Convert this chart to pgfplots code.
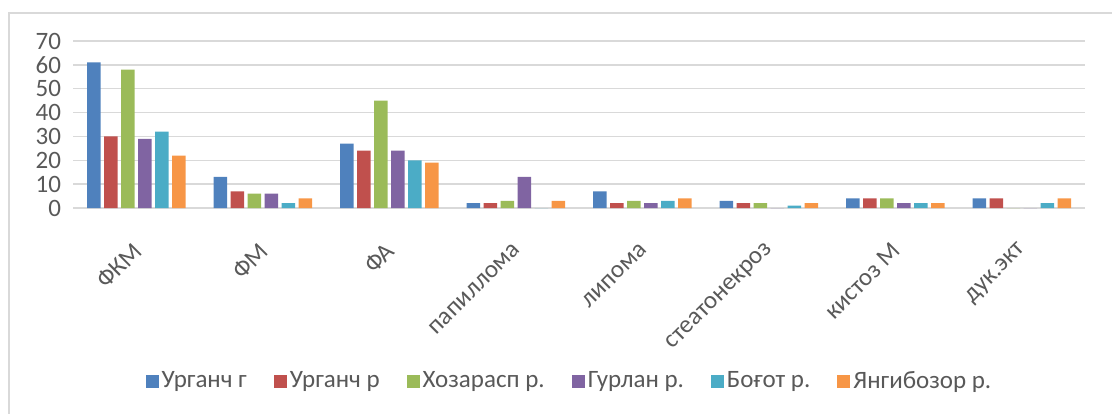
\documentclass[border=0pt]{standalone}
\usepackage{fontspec}
\setmainfont{Carlito}
\usepackage{pgfplots}
\pgfplotsset{compat=1.18}
\definecolor{c1}{HTML}{4F81BD}
\definecolor{c2}{HTML}{C0504D}
\definecolor{c3}{HTML}{9BBB59}
\definecolor{c4}{HTML}{8064A2}
\definecolor{c5}{HTML}{4BACC6}
\definecolor{c6}{HTML}{F79646}
\definecolor{txt}{HTML}{595959}
\definecolor{gridc}{HTML}{D9D9D9}
\begin{document}
\begin{tikzpicture}
\useasboundingbox (0,0) rectangle (556pt,206.5pt);
\draw[gridc, line width=0.75pt] (4.5pt,-2pt) -- (4.5pt,200pt) -- (560pt,200pt);
\begin{axis}[
  at={(36.5pt,102.5pt)}, anchor=south west,
  scale only axis, width=506pt, height=83.5pt,
  xmin=-0.5, xmax=7.5, ymin=0, ymax=70,
  ybar=1.75pt, bar width=6.75pt,
  xtick={0,...,7},
  xticklabels={ФКМ,ФМ,ФА,папиллома,липома,стеатонекроз,кистоз М,дук.экт},
  ytick={0,10,...,70},
  ymajorgrids, major grid style={gridc, line width=0.75pt},
  axis lines*=left, axis line style={-},
  y axis line style={draw=none},
  x axis line style={gridc, line width=0.75pt},
  major tick length=0pt,
  tick label style={font=\fontsize{12.5}{14}\selectfont, text=txt},
  yticklabel style={xshift=-2.5pt},
  xticklabel style={xshift=3pt, yshift=-17pt, rotate=45, anchor=east},
  /pgf/number format/assume math mode=true,
  legend columns=6,
  legend style={draw=none, at={(0.491,-1.036)}, anchor=center,
    font=\fontsize{12.5}{14}\selectfont, text=txt,
    /tikz/every even column/.append style={column sep=12pt},
    nodes={inner sep=1.5pt}},
  legend image code/.code={\fill[#1] (0pt,-3.25pt) rectangle (6.5pt,3.25pt);},
  every axis plot/.append style={draw=none},
]
\addplot[fill=c1] coordinates {(0,61) (1,13) (2,27) (3,2) (4,7) (5,3) (6,4) (7,4)};
\addplot[fill=c2] coordinates {(0,30) (1,7) (2,24) (3,2) (4,2) (5,2) (6,4) (7,4)};
\addplot[fill=c3] coordinates {(0,58) (1,6) (2,45) (3,3) (4,3) (5,2) (6,4) (7,0)};
\addplot[fill=c4] coordinates {(0,29) (1,6) (2,24) (3,13) (4,2) (5,0) (6,2) (7,0)};
\addplot[fill=c5] coordinates {(0,32) (1,2) (2,20) (3,0) (4,3) (5,1) (6,2) (7,2)};
\addplot[fill=c6] coordinates {(0,22) (1,4) (2,19) (3,3) (4,4) (5,2) (6,2) (7,4)};
\legend{Урганч г,Урганч р,Хозарасп р.,Гурлан р.,Боғот р.,Янгибозор р.}
\end{axis}
\end{tikzpicture}
\end{document}
